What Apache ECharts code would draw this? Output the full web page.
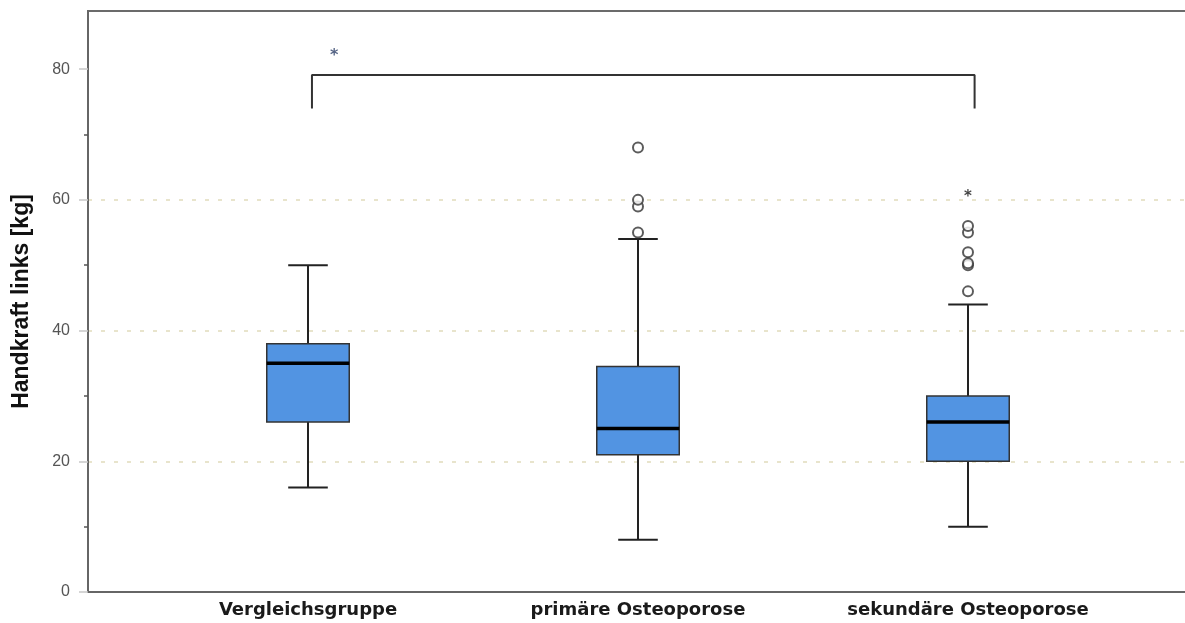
<!DOCTYPE html>
<html>
<head>
<meta charset="utf-8">
<script src="https://cdn.jsdelivr.net/npm/echarts@6/dist/echarts.min.js"></script>
<style>html,body{margin:0;padding:0;background:#fff;overflow:hidden}#c{width:1185px;height:623px}</style>
</head>
<body>
<div id="c"></div>
<script>
// ---- data ----
const categories = ['Vergleichsgruppe', 'primäre Osteoporose', 'sekundäre Osteoporose'];
// [min, Q1, median, Q3, max]
const boxStats = [
  [16, 26, 35, 38, 50],
  [8, 21, 25, 34.5, 54],
  [10, 20, 26, 30, 44]
];
const outliers = [
  [1, 55], [1, 59], [1, 60], [1, 68],
  [2, 46], [2, 50], [2, 50.3], [2, 52], [2, 55], [2, 56]
];
const extremes = [[2, 61]];
const yTicks = [0, 20, 40, 60, 80];
const yMinorTicks = [10, 30, 50, 70];
const bracket = [[0.012, 74], [0.012, 79.1], [2.02, 79.1], [2.02, 74]];
const sigMark = [[0.079, 82.6]];
const yTitle = 'Handkraft links [kg]';

const YMAX = 88.9;
const chart = echarts.init(document.getElementById('c'), null, {renderer: 'canvas'});

const boxData = boxStats.map((s, i) => [i].concat(s));

chart.setOption({
  animation: false,
  grid: [
    {left: 88, width: 1130, top: 11, bottom: 31, outerBoundsMode: 'none', containLabel: false,
      show: true, borderColor: '#6b6b6b', borderWidth: 2, backgroundColor: 'transparent'},
    {left: 143, width: 990, top: 11, bottom: 31, outerBoundsMode: 'none', containLabel: false}
  ],
  xAxis: [
    {gridIndex: 0, type: 'category', data: [''], axisLine: {show: true, lineStyle: {color: '#666', width: 2}}, axisTick: {show: false}, axisLabel: {show: false}},
    {gridIndex: 1, type: 'category', data: categories, boundaryGap: true,
      axisLine: {show: false}, axisTick: {show: false},
      axisLabel: {margin: 9, fontFamily: 'DejaVu Sans', fontWeight: 'bold', fontSize: 18, color: '#1a1a1a'}},
    {gridIndex: 1, type: 'value', min: -0.5, max: 2.5, show: false}
  ],
  yAxis: [
    {gridIndex: 0, type: 'value', min: 0, max: YMAX, interval: 20, position: 'left',
      name: yTitle, nameLocation: 'middle', nameGap: 55, nameRotate: 90,
      nameTextStyle: {fontFamily: 'Liberation Sans', fontWeight: 'bold', fontSize: 23, color: '#111'},
      axisLine: {show: true, lineStyle: {color: '#666', width: 2}},
      axisTick: {show: true, length: 9, lineStyle: {color: '#c8c8c8', width: 1.5}, customValues: yTicks},
      axisLabel: {margin: 18, fontFamily: 'Liberation Sans', fontSize: 16, color: '#555', customValues: yTicks},
      splitLine: {show: true, showMinLine: false, showMaxLine: false, lineStyle: {color: '#e8e4cc', width: 2, type: [4, 9]}}
    },
    {gridIndex: 0, type: 'value', min: 0, max: YMAX, position: 'left',
      axisLine: {show: false}, axisLabel: {show: false}, splitLine: {show: false},
      axisTick: {show: true, length: 4, lineStyle: {color: '#555', width: 1.5}, customValues: yMinorTicks}
    },
    {gridIndex: 1, type: 'value', min: 0, max: YMAX, show: false, splitLine: {show: false}}
  ],
  series: [
    {
      type: 'custom', xAxisIndex: 1, yAxisIndex: 2, data: boxData,
      encode: {x: 0, y: [1, 2, 3, 4, 5]},
      renderItem: function (params, api) {
        const x = api.value(0);
        const band = api.size([1, 0])[0];
        const bw = band * 0.25, cw = band * 0.12;
        const pMin = api.coord([x, api.value(1)]);
        const pQ1 = api.coord([x, api.value(2)]);
        const pMed = api.coord([x, api.value(3)]);
        const pQ3 = api.coord([x, api.value(4)]);
        const pMax = api.coord([x, api.value(5)]);
        const cx = pMed[0];
        const ls = {stroke: '#222', lineWidth: 2};
        return {type: 'group', children: [
          {type: 'line', shape: {x1: cx, y1: pQ3[1], x2: cx, y2: pMax[1]}, style: ls},
          {type: 'line', shape: {x1: cx, y1: pQ1[1], x2: cx, y2: pMin[1]}, style: ls},
          {type: 'line', shape: {x1: cx - cw / 2, y1: pMax[1], x2: cx + cw / 2, y2: pMax[1]}, style: ls},
          {type: 'line', shape: {x1: cx - cw / 2, y1: pMin[1], x2: cx + cw / 2, y2: pMin[1]}, style: ls},
          {type: 'rect', shape: {x: cx - bw / 2, y: pQ3[1], width: bw, height: pQ1[1] - pQ3[1]},
            style: {fill: '#5294e2', stroke: '#333', lineWidth: 1.5}},
          {type: 'line', shape: {x1: cx - bw / 2, y1: pMed[1], x2: cx + bw / 2, y2: pMed[1]}, style: {stroke: '#000', lineWidth: 3.5}}
        ]};
      }
    },
    {
      type: 'scatter', xAxisIndex: 1, yAxisIndex: 2, data: outliers,
      symbol: 'circle', symbolSize: 10,
      itemStyle: {color: '#fff', borderColor: '#333', borderWidth: 2}
    },
    {
      type: 'scatter', xAxisIndex: 1, yAxisIndex: 2, data: extremes,
      symbolSize: 1, itemStyle: {color: 'transparent'},
      label: {show: true, position: 'inside', formatter: '*', fontFamily: 'DejaVu Sans', fontWeight: 'bold', fontSize: 15, color: '#111', offset: [0, 4]}
    },
    {
      type: 'line', xAxisIndex: 2, yAxisIndex: 2, data: bracket, symbol: 'none',
      lineStyle: {color: '#333', width: 2}
    },
    {
      type: 'scatter', xAxisIndex: 2, yAxisIndex: 2, data: sigMark,
      symbolSize: 1, itemStyle: {color: 'transparent'},
      label: {show: true, position: 'inside', formatter: '*', fontFamily: 'DejaVu Sans', fontWeight: 'bold', fontSize: 16, color: '#2a3d66', offset: [0, 4]}
    }
  ]
});
</script>
</body>
</html>
